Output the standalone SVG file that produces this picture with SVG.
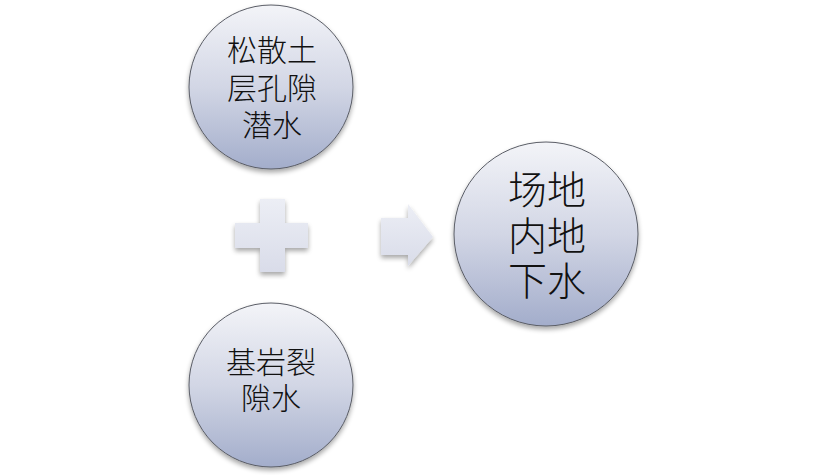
<svg xmlns="http://www.w3.org/2000/svg" width="830" height="475" viewBox="0 0 830 475">
<defs>
<linearGradient id="cg" x1="0" y1="0" x2="0" y2="1">
<stop offset="0" stop-color="#f3f4f8"/>
<stop offset="0.5" stop-color="#d2d6e5"/>
<stop offset="1" stop-color="#a3adcb"/>
</linearGradient>
<linearGradient id="sg" x1="0" y1="0" x2="0" y2="1">
<stop offset="0" stop-color="#eceef5"/>
<stop offset="1" stop-color="#d9dce9"/>
</linearGradient>
<filter id="sh" x="-20%" y="-20%" width="140%" height="150%">
<feGaussianBlur in="SourceAlpha" stdDeviation="2.5"/>
<feOffset dx="0" dy="3" result="b"/>
<feComponentTransfer><feFuncA type="linear" slope="0.35"/></feComponentTransfer>
<feMerge><feMergeNode/><feMergeNode in="SourceGraphic"/></feMerge>
</filter>
</defs>
<style>
.c{fill:url(#cg);stroke:#5a5d66;stroke-width:1;filter:url(#sh)}
.s{fill:url(#sg);stroke:none;filter:url(#sh)}
.t{font-family:"Noto Sans CJK SC","Noto Sans CJK JP",sans-serif;font-weight:300;fill:#111;text-anchor:middle}
.m{font-size:30px}
.l{font-size:39px}
</style>
<rect width="830" height="475" fill="#ffffff"/>
<g id="connectors">
<path class="s" d="M260,199 H285 V223 H308 V248 H285 V272 H260 V248 H235 V223 H260 Z"/>
<path class="s" d="M381,218 H408 V204 L433,237 L408,266 V255 H381 Z"/>
</g>
<g id="node-top">
<circle class="c" cx="271" cy="87" r="82"/>
<text class="t m" x="272" y="61">松散土</text>
<text class="t m" x="272" y="99">层孔隙</text>
<text class="t m" x="272" y="136">潜水</text>
</g>
<g id="node-bottom">
<circle class="c" cx="271" cy="385" r="82"/>
<text class="t m" x="271" y="373">基岩裂</text>
<text class="t m" x="271" y="409">隙水</text>
</g>
<g id="node-right">
<circle class="c" cx="546" cy="234" r="92"/>
<text class="t l" x="547" y="204">场地</text>
<text class="t l" x="547" y="250">内地</text>
<text class="t l" x="547" y="295">下水</text>
</g>
</svg>
